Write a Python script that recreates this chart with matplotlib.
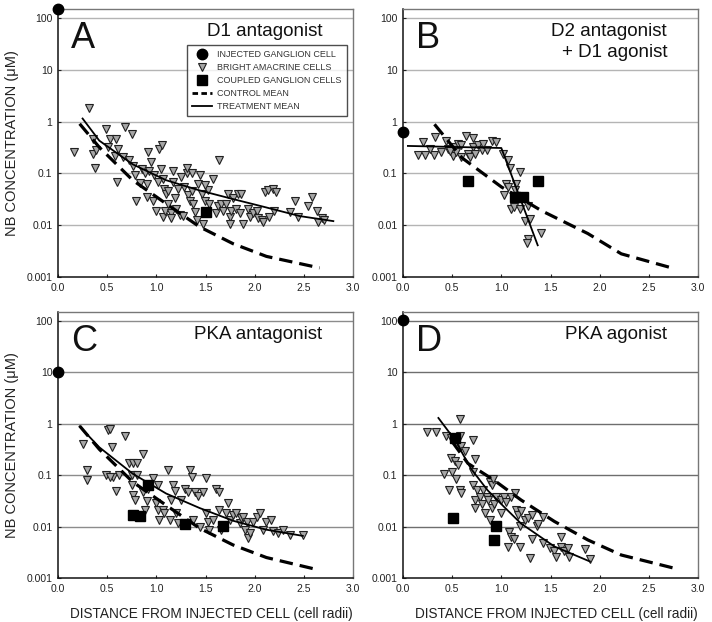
import matplotlib
matplotlib.use("Agg")
import matplotlib.pyplot as plt
from matplotlib.lines import Line2D

plt.rcParams['font.family'] = ['Liberation Sans', 'DejaVu Sans']

# ---------------- data ----------------
x_ticks = [0.0, 0.5, 1.0, 1.5, 2.0, 2.5, 3.0]
x_tick_labels = ['0.0', '0.5', '1.0', '1.5', '2.0', '2.5', '3.0']
y_ticks = [0.001, 0.01, 0.1, 1, 10, 100]
y_tick_labels = ['0.001', '0.01', '0.1', '1', '10', '100']

panel_letters = ['A', 'B', 'C', 'D']
panel_titles = ['D1 antagonist', 'D2 antagonist\n+ D1 agonist', 'PKA antagonist', 'PKA agonist']

legend_labels = ['INJECTED GANGLION CELL', 'BRIGHT AMACRINE CELLS', 'COUPLED GANGLION CELLS',
                 'CONTROL MEAN', 'TREATMENT MEAN']

# Panel A
a_inj_x = [0.0]; a_inj_y = [147]
a_amac_x = [0.16, 0.32, 0.36, 0.36, 0.39, 0.38, 0.49, 0.53, 0.59, 0.51, 0.61, 0.58, 0.60, 0.68, 0.75,
            0.66, 0.76, 0.78, 0.79, 0.85, 0.88, 0.90, 0.90, 0.92, 0.93, 0.95, 0.97, 0.98, 1.00, 1.03,
            1.06, 1.02, 1.05, 1.07, 1.07, 1.08, 1.10, 1.09, 1.12, 1.15, 1.15, 1.17, 1.17, 1.19, 1.20,
            1.22, 1.25, 1.24, 1.31, 1.31, 1.32, 1.34, 1.36, 1.37, 1.39, 1.41, 1.42, 1.44, 1.46, 1.47,
            1.49, 1.53, 1.54, 1.58, 1.61, 1.63, 1.64, 1.66, 1.68, 1.71, 1.73, 1.75, 1.75, 1.76, 1.78,
            1.81, 1.83, 1.85, 1.86, 1.88, 1.93, 1.95, 1.98, 2.02, 2.03, 2.07, 2.08, 2.10, 2.14, 2.19,
            2.22, 2.20, 2.15, 2.36, 2.41, 2.44, 2.54, 2.58, 2.63, 2.64, 2.68, 2.71,
            1.28, 1.36, 1.49, 0.72, 0.83, 1.12, 1.27]
a_amac_y = [0.26, 1.8, 0.47, 0.24, 0.28, 0.13, 0.72, 0.47, 0.47, 0.32, 0.30, 0.22, 0.068, 0.78, 0.59,
            0.21, 0.14, 0.092, 0.030, 0.12, 0.10, 0.063, 0.035, 0.26, 0.11, 0.17, 0.030, 0.092, 0.019, 0.30,
            0.35, 0.068, 0.12, 0.079, 0.0145, 0.051, 0.040, 0.019, 0.026, 0.017, 0.0135, 0.068, 0.11, 0.033, 0.021,
            0.051, 0.086, 0.016, 0.10, 0.13, 0.038, 0.030, 0.10, 0.026, 0.018, 0.0126, 0.063, 0.092, 0.040, 0.0107,
            0.030, 0.047, 0.026, 0.079, 0.017, 0.023, 0.18, 0.026, 0.019, 0.026, 0.040, 0.0145, 0.0107, 0.019, 0.033,
            0.021, 0.040, 0.017, 0.040, 0.0107, 0.021, 0.0145, 0.017, 0.019, 0.0135, 0.0126, 0.0117, 0.044, 0.047, 0.051,
            0.044, 0.019, 0.0145, 0.018, 0.030, 0.0145, 0.023, 0.035, 0.019, 0.0117, 0.0135, 0.0126,
            0.055, 0.045, 0.060, 0.18, 0.065, 0.045, 0.015]
a_coup_x = [1.51]; a_coup_y = [0.018]
a_ctrl_x = [0.22, 0.42, 0.76, 1.10, 1.44, 1.78, 2.12, 2.66]
a_ctrl_y = [0.91, 0.32, 0.074, 0.026, 0.0093, 0.0044, 0.0025, 0.0015]
a_trt_x = [0.25, 0.42, 0.76, 1.10, 1.44, 1.78, 2.12, 2.46, 2.80]
a_trt_y = [1.15, 0.43, 0.15, 0.074, 0.047, 0.032, 0.022, 0.015, 0.012]

# Panel B
b_inj_x = [0.0]; b_inj_y = [0.63]
b_amac_x = [0.15, 0.20, 0.22, 0.32, 0.33, 0.39, 0.44, 0.46, 0.51, 0.53, 0.54, 0.56, 0.59, 0.59, 0.64,
            0.66, 0.68, 0.71, 0.71, 0.73, 0.76, 0.80, 0.81, 0.85, 0.90, 0.95, 1.02, 1.07, 1.09, 1.19,
            1.05, 1.07, 1.15, 1.14, 1.03, 1.10, 1.13, 1.19, 1.24, 1.29, 1.27, 1.27, 1.26, 1.40, 0.27, 0.48]
b_amac_y = [0.23, 0.41, 0.23, 0.23, 0.50, 0.26, 0.43, 0.30, 0.22, 0.32, 0.26, 0.37, 0.21, 0.35, 0.54,
            0.24, 0.21, 0.49, 0.32, 0.24, 0.35, 0.28, 0.37, 0.28, 0.43, 0.41, 0.24, 0.18, 0.13, 0.107,
            0.063, 0.055, 0.063, 0.047, 0.038, 0.021, 0.022, 0.021, 0.0123, 0.013, 0.023, 0.0055, 0.0046, 0.0071, 0.30, 0.27]
b_coup_x = [0.66, 1.14, 1.22, 1.37]; b_coup_y = [0.071, 0.035, 0.035, 0.073]
b_ctrl_x = [0.32, 0.60, 1.00, 1.41, 1.88, 2.22, 2.76]
b_ctrl_y = [0.89, 0.20, 0.055, 0.019, 0.0069, 0.0028, 0.00145]
b_trt_x = [0.05, 1.00, 1.37]
b_trt_y = [0.34, 0.31, 0.0041]

# Panel C
c_inj_x = [0.0]; c_inj_y = [10.3]
c_amac_x = [0.25, 0.29, 0.29, 0.49, 0.51, 0.53, 0.55, 0.56, 0.53, 0.59, 0.68, 0.72, 0.76, 0.80, 0.75,
            0.75, 0.76, 0.78, 0.80, 0.86, 0.86, 0.88, 0.90, 0.92, 0.97, 1.00, 1.02, 1.02, 1.03, 1.07,
            1.08, 1.12, 1.14, 1.15, 1.17, 1.19, 1.20, 1.22, 1.25, 1.29, 1.32, 1.34, 1.36, 1.37, 1.39,
            1.42, 1.44, 1.47, 1.51, 1.51, 1.53, 1.54, 1.58, 1.61, 1.64, 1.64, 1.66, 1.71, 1.73, 1.75,
            1.78, 1.81, 1.85, 1.86, 1.88, 1.90, 1.92, 1.93, 1.95, 1.98, 2.02, 2.05, 2.08, 2.12, 2.17,
            2.19, 2.24, 2.29, 2.36, 2.49, 0.62]
c_amac_y = [0.41, 0.126, 0.079, 0.10, 0.76, 0.81, 0.35, 0.093, 0.093, 0.05, 0.57, 0.17, 0.17, 0.17, 0.10,
            0.064, 0.041, 0.033, 0.10, 0.26, 0.047, 0.021, 0.031, 0.053, 0.088, 0.029, 0.064, 0.021, 0.0135, 0.021,
            0.018, 0.126, 0.0135, 0.033, 0.064, 0.05, 0.018, 0.0115, 0.033, 0.053, 0.047, 0.126, 0.093, 0.0135, 0.047,
            0.039, 0.010, 0.047, 0.088, 0.018, 0.0125, 0.0087, 0.0135, 0.053, 0.047, 0.021, 0.0087, 0.018, 0.029, 0.0135,
            0.017, 0.018, 0.0115, 0.0145, 0.0155, 0.0087, 0.0125, 0.0059, 0.0074, 0.0125, 0.0155, 0.018, 0.0087, 0.0125, 0.0135,
            0.0081, 0.0074, 0.0087, 0.0070, 0.0070, 0.10]
c_coup_x = [0.76, 0.83, 0.92, 1.29, 1.68]; c_coup_y = [0.017, 0.016, 0.064, 0.011, 0.0105]
c_ctrl_x = [0.22, 0.42, 0.76, 1.10, 1.44, 1.78, 2.12, 2.64]
c_ctrl_y = [0.91, 0.32, 0.074, 0.026, 0.0093, 0.0044, 0.0025, 0.00145]
c_trt_x = [0.22, 0.42, 0.76, 1.10, 1.44, 1.78, 2.12, 2.49]
c_trt_y = [0.89, 0.35, 0.107, 0.044, 0.023, 0.013, 0.0087, 0.0066]

# Panel D
d_inj_x = [0.0]; d_inj_y = [105]
d_amac_x = [0.24, 0.34, 0.44, 0.49, 0.58, 0.58, 0.59, 0.63, 0.49, 0.53, 0.56, 0.71, 0.73, 0.42, 0.50,
            0.54, 0.47, 0.58, 0.59, 0.71, 0.71, 0.75, 0.73, 0.73, 0.78, 0.80, 0.81, 0.85, 0.83, 0.86,
            0.88, 0.90, 0.92, 0.88, 0.90, 0.93, 0.95, 1.00, 1.00, 1.03, 1.05, 1.10, 1.14, 1.07, 1.08,
            1.10, 1.13, 1.15, 1.17, 1.19, 1.19, 1.20, 1.24, 1.27, 1.29, 1.31, 1.31, 1.36, 1.37, 1.42,
            1.42, 1.49, 1.54, 1.56, 1.61, 1.61, 1.64, 1.68, 1.69, 1.85, 1.90]
d_amac_y = [0.69, 0.69, 0.59, 0.54, 1.25, 0.59, 0.37, 0.30, 0.22, 0.19, 0.16, 0.48, 0.21, 0.105, 0.115,
            0.083, 0.051, 0.051, 0.045, 0.115, 0.064, 0.051, 0.033, 0.023, 0.038, 0.028, 0.051, 0.038, 0.018, 0.033,
            0.074, 0.064, 0.085, 0.0135, 0.023, 0.028, 0.038, 0.033, 0.018, 0.038, 0.030, 0.038, 0.045, 0.0041, 0.0079,
            0.0063, 0.0058, 0.021, 0.0165, 0.0105, 0.0041, 0.020, 0.0135, 0.0145, 0.0025, 0.0165, 0.0058, 0.0105, 0.011, 0.0048,
            0.0155, 0.0038, 0.0033, 0.0026, 0.0063, 0.0041, 0.0033, 0.0038, 0.0026, 0.0036, 0.0023]
d_coup_x = [0.51, 0.53, 0.95, 0.93]; d_coup_y = [0.0145, 0.54, 0.0105, 0.0055]
d_ctrl_x = [0.50, 0.66, 0.93, 1.20, 1.54, 1.88, 2.22, 2.80]
d_ctrl_y = [0.45, 0.17, 0.079, 0.033, 0.0126, 0.0055, 0.0028, 0.00148]
d_trt_x = [0.36, 0.53, 0.69, 0.86, 1.03, 1.20, 1.54, 1.90]
d_trt_y = [1.3, 0.48, 0.135, 0.051, 0.024, 0.0115, 0.0041, 0.0021]

panels = [
    (a_inj_x, a_inj_y, a_amac_x, a_amac_y, a_coup_x, a_coup_y, a_ctrl_x, a_ctrl_y, a_trt_x, a_trt_y),
    (b_inj_x, b_inj_y, b_amac_x, b_amac_y, b_coup_x, b_coup_y, b_ctrl_x, b_ctrl_y, b_trt_x, b_trt_y),
    (c_inj_x, c_inj_y, c_amac_x, c_amac_y, c_coup_x, c_coup_y, c_ctrl_x, c_ctrl_y, c_trt_x, c_trt_y),
    (d_inj_x, d_inj_y, d_amac_x, d_amac_y, d_coup_x, d_coup_y, d_ctrl_x, d_ctrl_y, d_trt_x, d_trt_y),
]

# ---------------- figure ----------------
fig = plt.figure(figsize=(7.12, 6.22), dpi=100)
W, H = 712, 622
# axes boxes in pixels: (left, top, right, bottom)
boxes = [(58, 9, 353, 277), (403, 9, 698, 277), (58, 312, 353, 578), (403, 312, 698, 578)]
grid_colors = ['#b4b4b4', '#b4b4b4', '#8c8c8c', '#6e6e6e']

amac_kw = dict(marker='v', linestyle='none', markersize=5.4, markerfacecolor='#a6a6a6',
               markeredgecolor='#202020', markeredgewidth=0.8)
coup_kw = dict(marker='s', linestyle='none', markersize=6.5, color='black')
inj_kw = dict(marker='o', linestyle='none', markersize=7.5, color='black')
ctrl_kw = dict(color='black', linewidth=2.3, linestyle=(0, (4.2, 2.2)))
trt_kw = dict(color='black', linewidth=1.3, linestyle='-')

for i, (box, data) in enumerate(zip(boxes, panels)):
    l, t, r, b = box
    ax = fig.add_axes([l / W, 1 - b / H, (r - l) / W, (b - t) / H])
    ix, iy, amx, amy, cx, cy, ctx, cty, tx, ty = data
    ax.set_yscale('log')
    ax.set_xlim(0, 3.0)
    ax.set_ylim(0.001, 150)
    for yv in y_ticks[1:]:
        ax.axhline(yv, color=grid_colors[i], linewidth=1.0, zorder=0)
    ax.plot(amx, amy, zorder=3, **amac_kw)
    ax.plot(ctx, cty, zorder=4, **ctrl_kw)
    ax.plot(tx, ty, zorder=4, **trt_kw)
    ax.plot(cx, cy, zorder=5, **coup_kw)
    ax.plot(ix, iy, zorder=6, clip_on=False, **inj_kw)

    ax.set_xticks(x_ticks)
    ax.set_xticklabels(x_tick_labels)
    ax.set_yticks(y_ticks)
    ax.set_yticklabels(y_tick_labels)
    ax.minorticks_off()
    ax.tick_params(axis='both', labelsize=7.5, length=2.5, width=0.8, direction='in', pad=4,
                   colors='#222222')
    for side in ['left', 'bottom']:
        ax.spines[side].set_color('#111111')
        ax.spines[side].set_linewidth(1.1)
    for side in ['top', 'right']:
        ax.spines[side].set_color('#777777')
        ax.spines[side].set_linewidth(1.0)

    ax.text(0.045, 0.955, panel_letters[i], transform=ax.transAxes, fontsize=26,
            ha='left', va='top', color='#111111')
    ax.text(0.895, 0.948, panel_titles[i], transform=ax.transAxes, fontsize=13.5,
            ha='right', va='top', color='#111111', linespacing=1.3, multialignment='right')

    if i in (0, 2):
        ax.set_ylabel('NB CONCENTRATION (\u03bcM)', fontsize=10.5, labelpad=5, color='#222222')
    if i in (2, 3):
        ax.set_xlabel('DISTANCE FROM INJECTED CELL (cell radii)', fontsize=9.8,
                      color='#222222')
        ax.xaxis.set_label_coords(0.52, -0.108)

    if i == 0:
        handles = [
            Line2D([], [], **inj_kw),
            Line2D([], [], **amac_kw),
            Line2D([], [], **coup_kw),
            Line2D([], [], color='black', linewidth=2.0, linestyle=(0, (2.0, 1.2))),
            Line2D([], [], **trt_kw),
        ]
        leg = ax.legend(handles, legend_labels, loc='upper left',
                        bbox_to_anchor=((187 - l) / (r - l), 1 - (45 - t) / (b - t)),
                        fontsize=6.5, frameon=True, fancybox=False, handlelength=2.2,
                        handletextpad=0.6, borderpad=0.55, labelspacing=0.45, borderaxespad=0)
        leg.get_frame().set_edgecolor('#222222')
        leg.get_frame().set_linewidth(1.0)
        for txt in leg.get_texts():
            txt.set_color('#333333')

fig.savefig('out.png', dpi=100, facecolor='white')
